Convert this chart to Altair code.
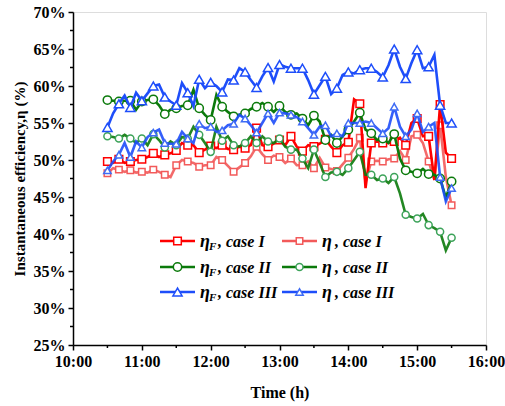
import altair as alt
import pandas as pd

# time axis: 10:30 .. 15:30 every 5 minutes (61 samples), markers every 10 minutes
start_hour = 10.5
step_minutes = 5

fI = [49.8, 49.6, 50.1, 49.6, 49.8, 50.0, 50.1, 50.4, 50.9, 50.4, 50.7, 50.9,
      51.3, 52.3, 52.0, 52.0, 51.0, 51.4, 51.9, 51.6, 52.0, 51.5, 51.4, 51.8,
      51.6, 52.0, 54.3, 52.0, 51.8, 52.2, 52.7, 52.0, 53.2, 51.8, 51.2, 52.0,
      51.8, 52.2, 52.8, 51.8, 51.0, 52.0, 52.4, 58.2, 57.6, 46.2, 52.3, 52.5,
      52.3, 52.3, 52.5, 53.0, 52.0, 55.0, 55.6, 53.2, 53.2, 47.3, 57.5, 51.0,
      50.2]
eI = [48.2, 48.9, 48.7, 48.4, 48.6, 48.3, 48.4, 48.3, 48.7, 48.4, 48.0, 47.7,
      49.3, 50.0, 49.8, 49.6, 49.1, 49.3, 49.3, 50.4, 50.0, 49.2, 48.4, 49.0,
      49.6, 50.5, 51.8, 50.8, 50.0, 50.6, 50.4, 49.6, 50.2, 49.3, 49.3, 49.8,
      48.9, 50.3, 49.0, 48.8, 48.5, 49.4, 50.3, 51.5, 53.0, 47.0, 49.8, 49.9,
      49.8, 50.1, 50.2, 51.2, 50.0, 53.2, 53.4, 52.3, 49.8, 47.3, 54.7, 47.7,
      43.9]
fII = [58.1, 58.0, 57.9, 58.0, 58.0, 56.8, 57.9, 58.1, 58.2, 57.4, 56.2, 56.8,
       57.0, 57.3, 57.4, 59.5, 57.0, 56.1, 55.4, 58.8, 57.2, 56.5, 55.9, 56.1,
       56.3, 56.9, 57.2, 57.7, 57.2, 56.5, 57.3, 56.5, 56.1, 56.3, 55.6, 54.7,
       56.0, 55.2, 52.7, 53.4, 52.3, 53.2, 54.1, 55.2, 56.4, 54.1, 53.6, 52.7,
       52.9, 52.3, 53.5, 50.2, 48.6, 48.4, 48.2, 48.8, 48.1, 48.0, 47.5, 44.9,
       47.1]
eII = [53.2, 53.1, 52.9, 53.4, 52.9, 52.3, 52.9, 52.0, 53.5, 52.7, 51.7, 52.5,
       52.0, 53.1, 52.9, 54.5, 53.4, 52.3, 51.1, 54.5, 52.6, 53.2, 52.0, 51.8,
       52.3, 53.2, 52.3, 53.2, 52.5, 52.3, 52.9, 51.8, 51.4, 51.4, 50.2, 48.9,
       51.4, 49.6, 47.7, 48.3, 48.4, 48.0, 48.9, 50.0, 51.1, 48.0, 48.0, 47.3,
       47.5, 46.9, 47.7, 45.5, 42.6, 42.3, 42.1, 42.7, 41.2, 40.8, 40.3, 37.8,
       39.5]
fIII = [54.4, 56.3, 57.6, 58.7, 57.1, 59.1, 58.0, 59.0, 60.0, 60.2, 58.5, 57.9,
        57.4, 60.4, 59.1, 57.3, 60.9, 59.7, 60.5, 60.0, 59.2, 60.9, 60.8, 62.4,
        61.9, 60.8, 59.8, 61.3, 62.5, 60.6, 62.9, 62.6, 62.4, 62.4, 62.4, 60.8,
        58.9, 60.1, 61.3, 58.9, 59.7, 61.5, 61.9, 61.7, 62.2, 62.4, 62.4, 61.9,
        61.2, 62.8, 65.0, 62.6, 61.0, 63.1, 64.9, 62.4, 62.6, 64.2, 57.4, 55.0,
        55.0]
eIII = [48.6, 49.8, 50.7, 52.3, 50.4, 52.5, 51.7, 53.1, 53.7, 54.1, 52.3, 52.2,
        52.2, 53.8, 52.9, 52.3, 54.9, 54.3, 54.5, 53.8, 54.0, 54.7, 54.9, 56.1,
        55.6, 54.7, 53.7, 55.0, 56.3, 55.0, 56.4, 56.3, 56.1, 55.8, 55.2, 54.3,
        53.4, 54.5, 54.7, 53.2, 53.6, 53.2, 55.0, 55.0, 55.0, 55.2, 55.0, 54.3,
        53.6, 54.3, 57.2, 54.5, 53.2, 54.1, 56.3, 53.8, 54.5, 55.0, 47.7, 44.4,
        46.2]

x_ticks = [10, 11, 12, 13, 14, 15, 16]
x_minor = [10.5, 11.5, 12.5, 13.5, 14.5, 15.5]
y_ticks = [25, 30, 35, 40, 45, 50, 55, 60, 65, 70]
y_minor = [27.5, 32.5, 37.5, 42.5, 47.5, 52.5, 57.5, 62.5, 67.5]

series = [
    # key, values, case, is_F, line colour, marker colour, shape, size, legend row, legend col
    ("eI", eI, "I", False, "#F25A5A", "#F25A5A", "square", 42, 0, 1),
    ("fI", fI, "I", True, "#FF0000", "#FF0000", "square", 58, 0, 0),
    ("eII", eII, "II", False, "#0B7A0B", "#3DA35A", "circle", 50, 1, 1),
    ("fII", fII, "II", True, "#0B7A0B", "#0B7A0B", "circle", 70, 1, 0),
    ("eIII", eIII, "III", False, "#1E4EFA", "#3F6CF5", "triangle-up", 55, 2, 1),
    ("fIII", fIII, "III", True, "#1E4EFA", "#1E4EFA", "triangle-up", 85, 2, 0),
]

rows = []
for key, vals, *_ in series:
    for i, v in enumerate(vals):
        rows.append({"s": key, "t": start_hour + i * step_minutes / 60.0, "v": v, "idx": i})
df = pd.DataFrame(rows)

W, H = 413, 333
FONT = "Liberation Serif"

xs = alt.Scale(domain=[10, 16], nice=False, zero=False)
ys = alt.Scale(domain=[25, 70], nice=False, zero=False)

xax = alt.Axis(values=x_ticks, labelExpr="floor(datum.value) + ':00'", title="Time (h)",
               tickSize=5, tickWidth=1.5, tickColor="black", domainColor="black", domainWidth=1.5,
               labelFont=FONT, labelFontSize=16, labelFontWeight="bold", labelColor="black",
               titleFont=FONT, titleFontSize=16, titleFontWeight="bold", titleColor="black",
               labelPadding=3, titlePadding=15, grid=False, labelFlush=False, labelOverlap=False,
               labelBound=False)
yax = alt.Axis(values=y_ticks, labelExpr="datum.value + '%'", title="Instantaneous efficiency,η (%)",
               tickSize=5, tickWidth=1.5, tickColor="black", domainColor="black", domainWidth=1.5,
               labelFont=FONT, labelFontSize=16, labelFontWeight="bold", labelColor="black",
               titleFont=FONT, titleFontSize=15, titleFontWeight="bold", titleColor="black",
               labelPadding=3, titlePadding=6, grid=False, labelOverlap=False, labelFlush=False)

X = alt.X("t:Q", scale=xs, axis=xax)
Y = alt.Y("v:Q", scale=ys, axis=yax)

layers = []
# minor ticks (drawn with the axis scales)
layers.append(alt.Chart(pd.DataFrame({"t": x_minor})).mark_rule(color="black", strokeWidth=1.5)
              .encode(x=X, y=alt.value(H), y2=alt.value(H + 3)))
layers.append(alt.Chart(pd.DataFrame({"v": y_minor})).mark_rule(color="black", strokeWidth=1.5)
              .encode(y=Y, x=alt.value(0), x2=alt.value(-3)))

for key, vals, case, isF, lc, mc, shape, size, r, c in series:
    base = alt.Chart(df).transform_filter(alt.datum.s == key)
    layers.append(base.mark_line(color=lc, strokeWidth=2.6, opacity=0.9 if not isF else 1)
                  .encode(x=X, y=Y, order="idx:Q"))
    layers.append(base.transform_filter("datum.idx % 2 == 0")
                  .mark_point(shape=shape, size=size, filled=True, fill="white", stroke=mc,
                              strokeWidth=1.5, opacity=1)
                  .encode(x=X, y=Y))

# legend (placed in data units through the same scales)
def tx(px):
    return 10 + (px - 73) / W * 6

def vy(py):
    return 70 - (py - 12) / H * 45

row_y = [241, 267, 292]
col_line = [(160, 195), (282, 317)]
col_text = [200, 322]

for key, vals, case, isF, lc, mc, shape, size, r, c in series:
    y0 = row_y[r]
    x1, x2 = col_line[c]
    ld = pd.DataFrame({"t": [tx(x1)], "t2": [tx(x2)], "v": [vy(y0)]})
    layers.append(alt.Chart(ld).mark_rule(color=lc, strokeWidth=2.6)
                  .encode(x=X, x2="t2:Q", y=Y))
    md = pd.DataFrame({"t": [tx((x1 + x2) / 2)], "v": [vy(y0)]})
    layers.append(alt.Chart(md).mark_point(shape=shape, size=size, filled=True, fill="white",
                                           stroke=mc, strokeWidth=1.5, opacity=1)
                  .encode(x=X, y=Y))
    tx0 = col_text[c]
    ed = pd.DataFrame({"t": [tx(tx0)], "v": [vy(y0 + 6)], "txt": ["η"]})
    layers.append(alt.Chart(ed).mark_text(font=FONT, fontSize=18, fontWeight="bold",
                                          fontStyle="italic", align="left", baseline="alphabetic",
                                          color="black")
                  .encode(x=X, y=Y, text="txt:N"))
    off = 13
    if isF:
        fd = pd.DataFrame({"t": [tx(tx0 + 9)], "v": [vy(y0 + 9)], "txt": ["F"]})
        layers.append(alt.Chart(fd).mark_text(font=FONT, fontSize=11, fontWeight="bold",
                                              fontStyle="italic", align="left",
                                              baseline="alphabetic", color="black")
                      .encode(x=X, y=Y, text="txt:N"))
        off = 18
    cd = pd.DataFrame({"t": [tx(tx0 + off)], "v": [vy(y0 + 6)], "txt": [", case " + case]})
    layers.append(alt.Chart(cd).mark_text(font=FONT, fontSize=16, fontWeight="bold",
                                          fontStyle="italic", align="left", baseline="alphabetic",
                                          color="black")
                  .encode(x=X, y=Y, text="txt:N"))

chart = (alt.layer(*layers)
         .properties(width=W, height=H,
                     padding={"left": 73, "top": 12, "right": 19, "bottom": 61},
                     autosize=alt.AutoSizeParams(type="none"))
         .configure_view(stroke="black", strokeWidth=1.5)
         .configure(background="white"))

chart.save("out.html", embed_options={"renderer": "svg", "actions": False})
